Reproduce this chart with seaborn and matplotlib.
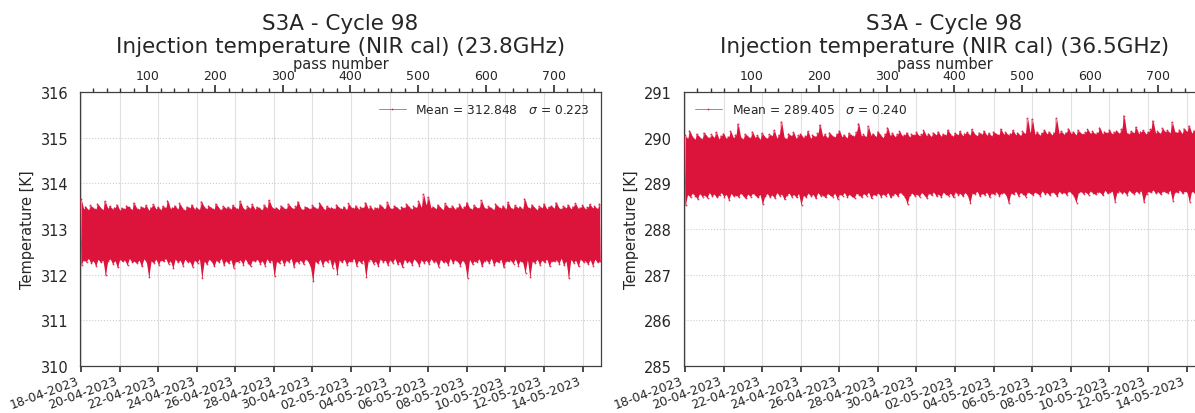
import pandas as pd
import matplotlib
matplotlib.use("Agg")
import matplotlib.pyplot as plt
import matplotlib.dates as mdates
from matplotlib.ticker import MultipleLocator
import seaborn as sns

# Cycle 98 time span and pass count
cycle_start = "2023-04-17 22:50"
cycle_days = 27
n_passes = 770
bin_hours = 3

# 23.8 GHz channel: highest / lowest sample in each 3-hour bin (K)
peak_hi_238 = [
    313.66, 313.44, 313.49, 313.41, 313.52, 313.46, 313.43, 313.55, 313.47, 313.42, 313.61, 313.45,
    313.50, 313.43, 313.47, 313.53, 313.41, 313.46, 313.44, 313.51, 313.48, 313.42, 313.57, 313.45,
    313.43, 313.49, 313.46, 313.52, 313.41, 313.47, 313.54, 313.44, 313.48, 313.42, 313.50, 313.46,
    313.62, 313.44, 313.47, 313.51, 313.43, 313.56, 313.45, 313.41, 313.49, 313.46, 313.53, 313.43,
    313.47, 313.42, 313.60, 313.48, 313.44, 313.51, 313.46, 313.43, 313.55, 313.47, 313.41, 313.50,
    313.45, 313.48, 313.43, 313.52, 313.46, 313.44, 313.61, 313.47, 313.42, 313.50, 313.45, 313.54,
    313.43, 313.48, 313.46, 313.41, 313.53, 313.45, 313.63, 313.49, 313.44, 313.47, 313.42, 313.51,
    313.46, 313.43, 313.55, 313.48, 313.44, 313.50, 313.60, 313.45, 313.42, 313.49, 313.47, 313.43,
    313.52, 313.46, 313.44, 313.57, 313.48, 313.42, 313.50, 313.45, 313.47, 313.43, 313.53, 313.46,
    313.44, 313.49, 313.42, 313.56, 313.47, 313.45, 313.51, 313.43, 313.48, 313.46, 313.58, 313.44,
    313.50, 313.42, 313.47, 313.45, 313.53, 313.48, 313.43, 313.59, 313.46, 313.44, 313.51, 313.47,
    313.42, 313.49, 313.45, 313.55, 313.48, 313.43, 313.50, 313.46, 313.61, 313.47, 313.76, 313.52,
    313.70, 313.46, 313.49, 313.44, 313.53, 313.47, 313.42, 313.56, 313.48, 313.45, 313.51, 313.43,
    313.47, 313.54, 313.44, 313.49, 313.58, 313.46, 313.43, 313.52, 313.47, 313.45, 313.63, 313.48,
    313.44, 313.50, 313.46, 313.42, 313.55, 313.48, 313.45, 313.51, 313.43, 313.59, 313.47, 313.44,
    313.52, 313.46, 313.49, 313.43, 313.66, 313.48, 313.45, 313.53, 313.47, 313.42, 313.50, 313.46,
    313.55, 313.44, 313.48, 313.51, 313.45, 313.58, 313.47, 313.43, 313.50, 313.46, 313.53, 313.44,
    313.49, 313.56, 313.45, 313.47, 313.52, 313.43, 313.48, 313.54, 313.46, 313.50, 313.44, 313.55,
]
peak_lo_238 = [
    312.22, 312.33, 312.28, 312.36, 312.25, 312.31, 312.19, 312.34, 312.27, 312.32, 311.99, 312.30,
    312.35, 312.24, 312.31, 312.16, 312.34, 312.29, 312.33, 312.21, 312.36, 312.27, 312.30, 312.25,
    312.32, 312.18, 312.35, 312.28, 311.95, 312.31, 312.26, 312.34, 312.22, 312.33, 312.29, 312.36,
    312.24, 312.31, 312.14, 312.35, 312.27, 312.32, 312.20, 312.34, 312.28, 312.30, 312.17, 312.33,
    312.26, 312.35, 311.93, 312.30, 312.23, 312.34, 312.29, 312.18, 312.32, 312.27, 312.36, 312.21,
    312.31, 312.25, 312.34, 312.15, 312.30, 312.28, 312.33, 312.22, 312.35, 312.26, 312.19, 312.32,
    312.29, 312.34, 312.24, 312.31, 312.20, 312.35, 312.27, 312.33, 311.97, 312.30, 312.25, 312.34,
    312.21, 312.32, 312.28, 312.36, 312.17, 312.31, 312.26, 312.33, 312.23, 312.35, 312.29, 312.18,
    311.86, 312.30, 312.25, 312.34, 312.20, 312.32, 312.28, 312.35, 312.15, 312.31, 312.01, 312.33,
    312.27, 312.34, 312.22, 312.30, 312.29, 312.36, 312.19, 312.32, 312.25, 312.33, 311.95, 312.31,
    312.34, 312.24, 312.30, 312.18, 312.35, 312.28, 312.32, 312.21, 312.33, 312.26, 312.36, 312.23,
    312.30, 312.16, 312.34, 312.27, 312.31, 312.22, 312.35, 312.29, 312.19, 312.33, 312.26, 312.32,
    312.24, 312.35, 312.28, 312.31, 312.17, 312.34, 312.27, 312.30, 312.21, 312.36, 312.25, 312.33,
    312.29, 312.20, 312.32, 312.26, 311.93, 312.34, 312.23, 312.31, 312.28, 312.35, 312.18, 312.30,
    312.33, 312.25, 312.36, 312.21, 312.30, 312.27, 312.34, 312.16, 312.31, 312.29, 312.33, 312.24,
    312.35, 312.20, 312.31, 312.28, 312.04, 312.33, 311.95, 312.30, 312.26, 312.34, 312.22, 312.32,
    312.27, 312.35, 312.19, 312.31, 312.29, 312.33, 312.24, 312.36, 312.21, 312.30, 311.93, 312.34,
    312.26, 312.32, 312.18, 312.35, 312.28, 312.31, 312.23, 312.33, 312.20, 312.34, 312.27, 312.30,
]

# 36.5 GHz channel: highest / lowest sample in each 3-hour bin (K)
peak_hi_365 = [
    290.05, 289.98, 290.15, 290.02, 289.96, 290.08, 290.01, 289.97, 290.11, 290.03, 289.99, 290.07,
    290.00, 290.12, 289.97, 290.04, 290.09, 289.98, 290.02, 290.14, 289.99, 290.06, 290.30, 290.01,
    289.97, 290.08, 290.03, 289.99, 290.13, 290.00, 290.05, 289.96, 290.10, 290.02, 289.98, 290.07,
    290.04, 290.16, 289.99, 290.06, 290.35, 290.01, 289.97, 290.09, 290.03, 290.12, 289.98, 290.05,
    290.08, 290.00, 290.04, 290.14, 289.98, 290.06, 290.02, 290.10, 290.28, 290.03, 290.07, 289.99,
    290.11, 290.04, 290.01, 290.08, 290.15, 290.02, 290.06, 289.99, 290.10, 290.05, 290.03, 290.12,
    290.31, 290.03, 290.07, 290.01, 290.25, 290.05, 290.09, 290.02, 290.13, 290.06, 290.00, 290.08,
    290.22, 290.04, 290.10, 290.02, 290.07, 290.14, 290.03, 290.06, 290.11, 290.01, 290.08, 290.05,
    290.12, 290.03, 290.07, 290.16, 290.04, 290.09, 290.02, 290.11, 290.06, 290.13, 290.03, 290.08,
    290.05, 290.17, 290.07, 290.03, 290.10, 290.06, 290.14, 290.04, 290.09, 290.12, 290.05, 290.18,
    290.08, 290.04, 290.11, 290.07, 290.15, 290.05, 290.10, 290.03, 290.13, 290.08, 290.06, 290.19,
    290.07, 290.12, 290.05, 290.09, 290.16, 290.06, 290.11, 290.04, 290.14, 290.08, 290.42, 290.10,
    290.40, 290.07, 290.12, 290.05, 290.10, 290.17, 290.08, 290.13, 290.06, 290.11, 290.42, 290.09,
    290.14, 290.07, 290.11, 290.20, 290.08, 290.13, 290.06, 290.16, 290.10, 290.07, 290.12, 290.18,
    290.09, 290.14, 290.07, 290.11, 290.22, 290.08, 290.13, 290.10, 290.17, 290.07, 290.12, 290.15,
    290.09, 290.19, 290.48, 290.11, 290.08, 290.14, 290.10, 290.23, 290.09, 290.13, 290.16, 290.08,
    290.12, 290.18, 290.37, 290.10, 290.14, 290.09, 290.21, 290.12, 290.16, 290.10, 290.34, 290.13,
    290.11, 290.17, 290.09, 290.20, 290.13, 290.26, 290.10, 290.15, 290.55, 290.12, 290.18, 290.14,
]
peak_lo_365 = [
    288.52, 288.76, 288.70, 288.79, 288.73, 288.66, 288.78, 288.71, 288.75, 288.68, 288.80, 288.72,
    288.77, 288.69, 288.74, 288.80, 288.71, 288.76, 288.64, 288.78, 288.72, 288.75, 288.70, 288.79,
    288.73, 288.67, 288.77, 288.71, 288.79, 288.74, 288.69, 288.76, 288.55, 288.72, 288.78, 288.70,
    288.75, 288.68, 288.80, 288.73, 288.77, 288.65, 288.74, 288.79, 288.71, 288.76, 288.69, 288.78,
    288.53, 288.74, 288.70, 288.79, 288.72, 288.76, 288.67, 288.80, 288.73, 288.75, 288.69, 288.78,
    288.74, 288.71, 288.79, 288.66, 288.77, 288.73, 288.80, 288.70, 288.76, 288.72, 288.68, 288.79,
    288.75, 288.70, 288.78, 288.73, 288.81, 288.67, 288.76, 288.74, 288.79, 288.71, 288.77, 288.73,
    288.80, 288.69, 288.75, 288.78, 288.72, 288.81, 288.76, 288.70, 288.55, 288.74, 288.79, 288.73,
    288.77, 288.71, 288.80, 288.75, 288.68, 288.79, 288.74, 288.82, 288.72, 288.77, 288.70, 288.81,
    288.76, 288.73, 288.79, 288.69, 288.82, 288.75, 288.78, 288.72, 288.80, 288.74, 288.57, 288.79,
    288.77, 288.83, 288.72, 288.78, 288.75, 288.81, 288.70, 288.79, 288.76, 288.82, 288.73, 288.78,
    288.80, 288.74, 288.57, 288.79, 288.76, 288.83, 288.72, 288.80, 288.77, 288.71, 288.82, 288.78,
    288.75, 288.81, 288.78, 288.73, 288.84, 288.77, 288.80, 288.74, 288.82, 288.79, 288.72, 288.83,
    288.78, 288.81, 288.75, 288.84, 288.79, 288.73, 288.58, 288.80, 288.83, 288.77, 288.82, 288.75,
    288.84, 288.79, 288.76, 288.82, 288.80, 288.74, 288.85, 288.78, 288.81, 288.83, 288.60, 288.80,
    288.84, 288.78, 288.82, 288.75, 288.85, 288.80, 288.77, 288.83, 288.79, 288.84, 288.59, 288.76,
    288.83, 288.80, 288.86, 288.78, 288.82, 288.76, 288.84, 288.81, 288.79, 288.85, 288.62, 288.82,
    288.80, 288.86, 288.78, 288.83, 288.81, 288.60, 288.84, 288.79, 288.85, 288.82, 288.80, 288.86,
]

# Channel statistics shown in the legends
freq_labels = ["23.8GHz", "36.5GHz"]
mean_values = [312.848, 289.405]
sigma_values = [0.223, 0.240]
y_ranges = [(310, 316), (285, 291)]
legend_locs = ["upper right", "upper left"]

tick_dates = pd.date_range("2023-04-18", "2023-05-14", freq="2D")

sns.set_theme(style="white")
plt.rcParams["font.family"] = ["DejaVu Sans"]

trace_color = "#dc143c"
W, H = 1195, 414
fig = plt.figure(figsize=(W / 100, H / 100), dpi=100)

panels = [(peak_hi_238, peak_lo_238), (peak_hi_365, peak_lo_365)]
axes_left_px = [80, 684]
ax_w_px, ax_top_px, ax_bot_px = 521, 93, 367

t0 = pd.Timestamp(cycle_start)
t1 = t0 + pd.Timedelta(days=cycle_days)

for k, (p_hi, p_lo) in enumerate(panels):
    ax = fig.add_axes([axes_left_px[k] / W, (H - ax_bot_px) / H,
                       ax_w_px / W, (ax_bot_px - ax_top_px) / H])

    # alternate each bin's maximum and minimum to build the sample trace
    times, temps = [], []
    for i, (hi, lo) in enumerate(zip(p_hi, p_lo)):
        tb = t0 + pd.Timedelta(hours=bin_hours * i)
        times += [tb + pd.Timedelta(hours=0.25 * bin_hours),
                  tb + pd.Timedelta(hours=0.75 * bin_hours)]
        temps += [hi, lo]
    trace = pd.DataFrame({"time": times, "temperature": temps})

    # envelope of the samples, bin by bin
    bin_mid = [t0 + pd.Timedelta(hours=bin_hours * (i + 0.5)) for i in range(len(p_hi))]
    ax.fill_between(bin_mid, p_lo, p_hi, color=trace_color, lw=0, zorder=2)

    label = f"Mean = {mean_values[k]:.3f}   $\\sigma$ = {sigma_values[k]:.3f}"
    sns.lineplot(data=trace, x="time", y="temperature", ax=ax, color=trace_color,
                 lw=0.6, marker=".", ms=1.2, mec=trace_color, alpha=0.75,
                 estimator=None, sort=False, label=label, zorder=3)

    ax.set_xlim(t0, t1)
    ax.set_ylim(*y_ranges[k])
    ax.yaxis.set_major_locator(MultipleLocator(1))
    ax.set_xticks(tick_dates)
    ax.xaxis.set_major_formatter(mdates.DateFormatter("%d-%m-%Y"))
    for lab in ax.get_xticklabels():
        lab.set_rotation(20)
        lab.set_ha("right")
    ax.tick_params(axis="x", labelsize=9, length=4, color="0.2", pad=2)
    ax.tick_params(axis="y", labelsize=10.5, length=5, color="0.2")
    ax.grid(True, axis="x", color="0.88", ls="-", lw=0.8)
    ax.grid(True, axis="y", color="0.8", ls=":", lw=0.8)
    ax.set_axisbelow(True)
    ax.set_xlabel("")
    ax.set_ylabel("Temperature [K]", fontsize=10.5)
    for s in ax.spines.values():
        s.set_color("0.25")
        s.set_linewidth(0.9)

    ax.legend(loc=legend_locs[k], frameon=False, fontsize=8.8, handlelength=2.2)

    top = ax.twiny()
    top.set_xlim(0.5, n_passes)
    top.xaxis.set_major_locator(MultipleLocator(100))
    top.xaxis.set_minor_locator(MultipleLocator(20))
    top.tick_params(axis="x", which="major", labelsize=9, length=5, color="0.2", pad=2)
    top.tick_params(axis="x", which="minor", length=3, color="0.2")
    top.set_xlabel("pass number", fontsize=10.5, labelpad=1)
    for s in top.spines.values():
        s.set_visible(False)

    ax.set_title(f"S3A - Cycle 98\nInjection temperature (NIR cal) ({freq_labels[k]})",
                 fontsize=15.5, pad=2)

fig.savefig("out.png", dpi=100)
